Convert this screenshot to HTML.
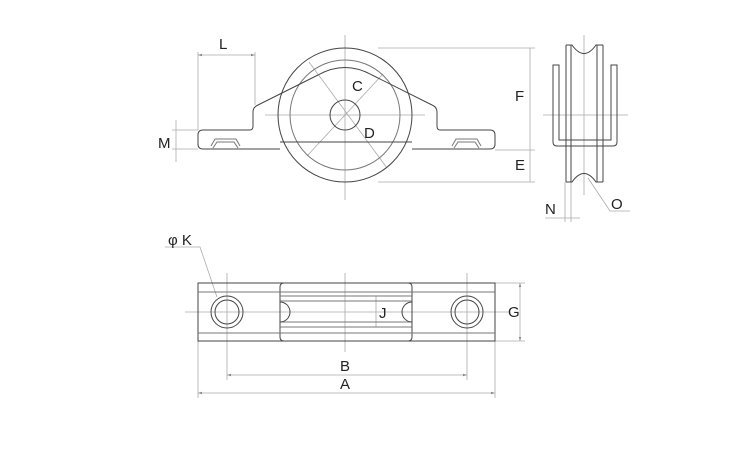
<!DOCTYPE html>
<html><head><style>body{margin:0;background:#fff}svg{display:block}text{font-family:"Liberation Sans",sans-serif;font-size:15px;fill:#222}</style></head><body>
<svg width="750" height="450" viewBox="0 0 750 450">
<defs><marker id="a" markerWidth="6" markerHeight="6" refX="5" refY="3" orient="auto"><path d="M0,1.5L5,3L0,4.5" fill="#888"/></marker><marker id="b" markerWidth="6" markerHeight="6" refX="1" refY="3" orient="auto"><path d="M6,1.5L1,3L6,4.5" fill="#888"/></marker></defs>
<g fill="none" stroke="#aaa" stroke-width="0.8">
<line x1="345" y1="35" x2="345" y2="200"/><line x1="265" y1="115" x2="425" y2="115"/>
<line x1="307" y1="156" x2="383" y2="74"/><line x1="309" y1="62" x2="387" y2="168"/>
<line x1="198" y1="52" x2="198" y2="130"/><line x1="255" y1="52" x2="255" y2="105"/>
<line x1="198" y1="55" x2="255" y2="55" marker-start="url(#b)" marker-end="url(#a)"/>
<line x1="172" y1="130" x2="198" y2="130"/><line x1="172" y1="149" x2="198" y2="149"/>
<line x1="176" y1="120" x2="176" y2="162"/>
<line x1="378" y1="48" x2="535" y2="48"/><line x1="495" y1="150" x2="535" y2="150"/><line x1="378" y1="182" x2="535" y2="182"/>
<line x1="530" y1="48" x2="530" y2="182"/>
<line x1="584" y1="35" x2="584" y2="195"/><line x1="543" y1="115" x2="628" y2="115"/>
<line x1="565" y1="182" x2="565" y2="222"/><line x1="571" y1="182" x2="571" y2="222"/>
<line x1="545" y1="218" x2="580" y2="218"/>
<polyline points="588,178 610,211 630,211"/>
<line x1="185" y1="312" x2="510" y2="312"/>
<line x1="227" y1="273" x2="227" y2="380"/><line x1="345" y1="273" x2="345" y2="352"/><line x1="467" y1="273" x2="467" y2="380"/>
<line x1="198" y1="341" x2="198" y2="398"/><line x1="495" y1="341" x2="495" y2="398"/>
<line x1="227" y1="375" x2="467" y2="375" marker-start="url(#b)" marker-end="url(#a)"/>
<line x1="198" y1="393" x2="495" y2="393" marker-start="url(#b)" marker-end="url(#a)"/>
<line x1="495" y1="283" x2="525" y2="283"/><line x1="495" y1="341" x2="525" y2="341"/>
<line x1="520" y1="283" x2="520" y2="341" marker-start="url(#b)" marker-end="url(#a)"/>
<line x1="376" y1="296" x2="376" y2="327"/>
<polyline points="165,247 200,247 217,297"/>
</g>
<g fill="none" stroke="#444" stroke-width="1">
<circle cx="345" cy="115" r="67"/><circle cx="345" cy="115" r="55" stroke="#777"/><circle cx="345" cy="115" r="15"/>
<path d="M280,149 L203,149 Q198,149 198,144 L198,135 Q198,130 203,130 L250,130 Q253,130 253,126 L253,112 Q253,107 258,105 L318,75 Q345,60 372,75 L432,105 Q437,107 437,112 L437,126 Q437,130 440,130 L490,130 Q495,130 495,135 L495,144 Q495,149 490,149 L412,149"/>
<line x1="280" y1="142" x2="412" y2="142"/>
<path d="M211,146 L215,139 L236,139 L240,146 M213,148 L217,142 L234,142 L238,148" stroke="#777"/>
<path d="M452,146 L456,139 L477,139 L481,146 M454,148 L458,142 L475,142 L479,148" stroke="#777"/>
<path d="M566,182 L566,45 M603,45 L603,182 M571,45 L571,182 M597,45 L597,182"/>
<path d="M566,45 L572,45 Q584,62 596,45 L603,45"/>
<path d="M566,182 L572,182 Q584,165 596,182 L603,182"/>
<path d="M553,65 L559,65 L559,140 L611,140 L611,65 L617,65 L617,142 Q617,146 613,146 L557,146 Q553,146 553,142 Z"/>
<rect x="198" y="283" width="297" height="58"/>
<path d="M284,283 L408,283 Q412,283 412,287 L412,337 Q412,341 408,341 L284,341 Q280,341 280,337 L280,287 Q280,283 284,283"/>
<g stroke="#777"><line x1="198" y1="292" x2="495" y2="292"/><line x1="198" y1="333" x2="495" y2="333"/>
<line x1="280" y1="296" x2="412" y2="296"/><line x1="280" y1="301" x2="412" y2="301"/><line x1="280" y1="322" x2="412" y2="322"/><line x1="280" y1="327" x2="412" y2="327"/></g>
<path d="M280,302 A10,10 0 0 1 280,322 M412,302 A10,10 0 0 0 412,322"/>
<circle cx="227" cy="312" r="16"/><circle cx="227" cy="312" r="12"/><circle cx="467" cy="312" r="16"/><circle cx="467" cy="312" r="12"/>
</g>
<text x="219" y="49">L</text><text x="158" y="148">M</text><text x="352" y="91">C</text><text x="364" y="138">D</text>
<text x="515" y="101">F</text><text x="515" y="170">E</text><text x="545" y="214">N</text><text x="611" y="209">O</text>
<text x="168" y="245">φ K</text><text x="508" y="317">G</text><text x="379" y="318">J</text>
<text x="340" y="371">B</text><text x="340" y="389">A</text>
</svg>
</body></html>
